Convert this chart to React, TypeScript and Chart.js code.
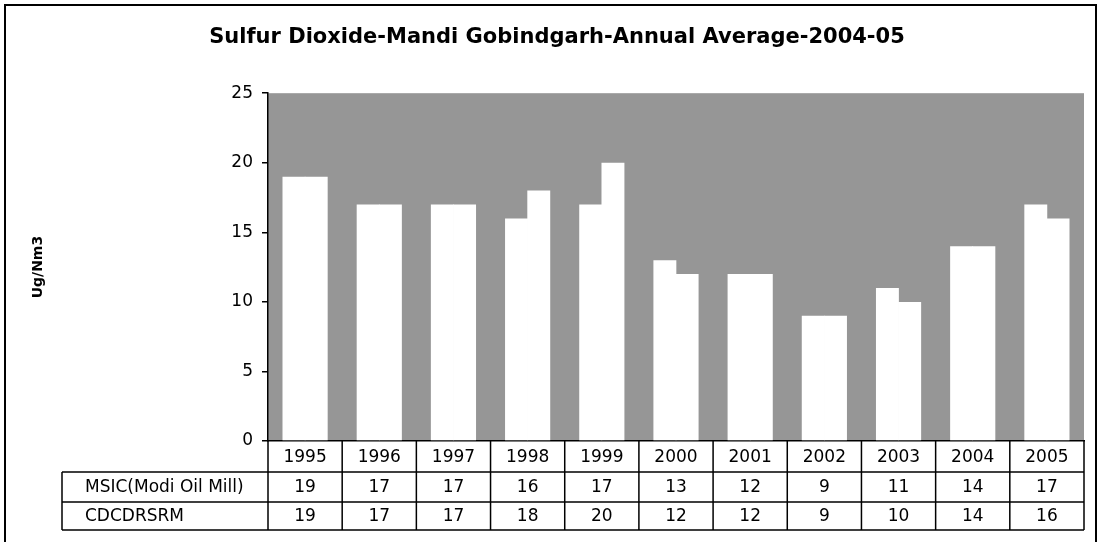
import React, { useEffect, useRef } from "react";
import { Chart, registerables } from "chart.js";

Chart.register(...registerables);

const chartTitle = "Sulfur Dioxide-Mandi Gobindgarh-Annual Average-2004-05";
const yAxisTitle = "Ug/Nm3";
const years = ["1995", "1996", "1997", "1998", "1999", "2000", "2001", "2002", "2003", "2004", "2005"];
const seriesNames = ["MSIC(Modi Oil Mill)", "CDCDRSRM"];
const msicValues = [19, 17, 17, 16, 17, 13, 12, 9, 11, 14, 17];
const cdcdrsrmValues = [19, 17, 17, 18, 20, 12, 12, 9, 10, 14, 16];
const yMin = 0;
const yMax = 25;
const yStep = 5;

const FONT = "'DejaVu Sans', sans-serif";

const tablePlugin = {
  id: "dataTable",
  beforeDraw(chart: any) {
    const { ctx, chartArea: a } = chart;
    ctx.save();
    ctx.fillStyle = "#ffffff";
    ctx.fillRect(0, 0, chart.width, chart.height);
    ctx.fillStyle = "#969696";
    ctx.fillRect(a.left, a.top, a.right - a.left, a.bottom - a.top);
    ctx.restore();
  },
  afterDraw(chart: any) {
    const { ctx, chartArea: a } = chart;
    const x = chart.scales.x;
    const n = chart.data.labels.length;
    const half = (x.getPixelForValue(1) - x.getPixelForValue(0)) / 2;
    const y0 = a.bottom;
    const y1 = y0 + 31;
    const y2 = y1 + 30;
    const y3 = y2 + 28;
    const labelLeft = 62;
    ctx.save();
    ctx.strokeStyle = "#000";
    ctx.lineWidth = 1.5;
    ctx.beginPath();
    [y1, y2, y3].forEach((y) => {
      ctx.moveTo(labelLeft, y);
      ctx.lineTo(a.right, y);
    });
    ctx.moveTo(labelLeft, y1);
    ctx.lineTo(labelLeft, y3);
    for (let i = 0; i <= n; i++) {
      const px = i < n ? x.getPixelForValue(i) - half : x.getPixelForValue(n - 1) + half;
      ctx.moveTo(px, y0);
      ctx.lineTo(px, y3);
    }
    ctx.stroke();

    ctx.fillStyle = "#000";
    ctx.font = "17px " + FONT;
    ctx.textBaseline = "middle";
    const rowCenters = [488, 517].map((v) => v - 441 + y0);
    chart.data.datasets.forEach((ds: any, r: number) => {
      const cy = rowCenters[r];
      ctx.textAlign = "left";
      ctx.fillText(ds.label, 85, cy);
      ctx.textAlign = "center";
      ds.data.forEach((v: number, i: number) => {
        ctx.fillText(String(v), x.getPixelForValue(i), cy);
      });
    });

    ctx.lineWidth = 2;
    ctx.strokeRect(5, 5, 1091, 545);
    ctx.restore();
  },
};

export default function App() {
  const canvasRef = useRef<HTMLCanvasElement | null>(null);

  useEffect(() => {
    const canvas = canvasRef.current;
    if (!canvas) return;
    const chart = new Chart(canvas, {
      type: "bar",
      data: {
        labels: years,
        datasets: [
          {
            label: seriesNames[0],
            data: msicValues,
            backgroundColor: "#ffffff",
            borderWidth: 0,
            categoryPercentage: 0.6,
            barPercentage: 1.03,
          },
          {
            label: seriesNames[1],
            data: cdcdrsrmValues,
            backgroundColor: "#ffffff",
            borderWidth: 0,
            categoryPercentage: 0.6,
            barPercentage: 1.03,
          },
        ],
      },
      options: {
        responsive: false,
        animation: false,
        devicePixelRatio: 1,
        layout: { padding: { left: 30, right: 15, top: 0, bottom: 0 } },
        plugins: {
          legend: { display: false },
          tooltip: { enabled: false },
          title: {
            display: true,
            text: chartTitle,
            color: "#000",
            font: { family: FONT, size: 21, weight: "bold" },
            padding: { top: 25, bottom: 43 },
          },
        },
        scales: {
          x: {
            grid: { display: false, drawTicks: false },
            border: { display: true, color: "#000", width: 1.5 },
            ticks: {
              color: "#000",
              font: { family: FONT, size: 17 },
              padding: 6,
              maxRotation: 0,
              autoSkip: false,
            },
            afterFit: (s: any) => {
              s.height = 101;
            },
          },
          y: {
            min: yMin,
            max: yMax,
            ticks: {
              stepSize: yStep,
              color: "#000",
              font: { family: FONT, size: 17 },
              padding: 9,
            },
            grid: {
              display: true,
              drawOnChartArea: false,
              drawTicks: true,
              tickLength: 6,
              color: "#000",
              lineWidth: 1.5,
            },
            border: { display: true, color: "#000", width: 1.5 },
            title: {
              display: true,
              text: yAxisTitle,
              color: "#000",
              font: { family: FONT, size: 14, weight: "bold" },
              padding: { top: 0, bottom: 0 },
            },
            afterFit: (s: any) => {
              s.width = 238;
            },
          },
        },
      },
      plugins: [tablePlugin],
    });
    return () => chart.destroy();
  }, []);

  return (
    <div style={{ position: "absolute", left: 0, top: 0, width: 1099, height: 542 }}>
      <canvas ref={canvasRef} width={1099} height={542} />
    </div>
  );
}
